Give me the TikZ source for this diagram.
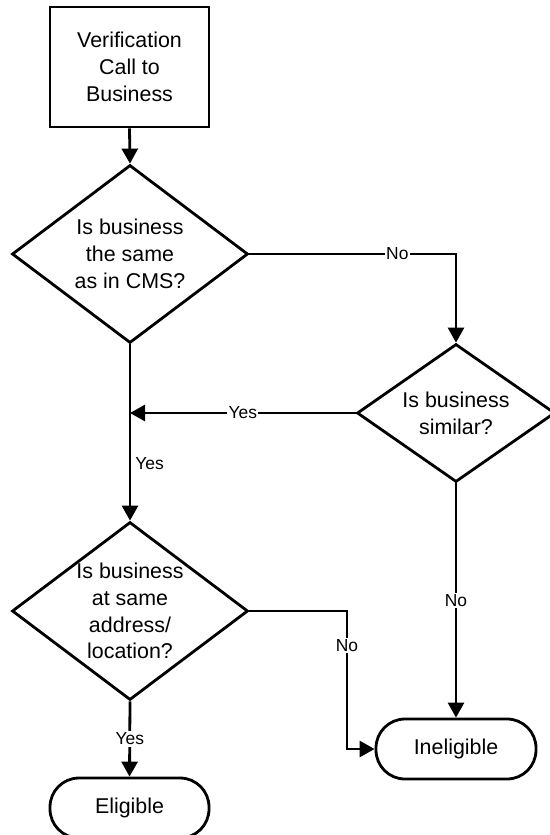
\documentclass[tikz,border=0pt]{standalone}
\usepackage{fontspec}
\setmainfont{Liberation Sans}
\usetikzlibrary{shapes.geometric,arrows.meta}
\newcommand\dfont{\fontsize{21.4}{26.7}\selectfont}
\newcommand\lfont{\fontsize{17.4}{20}\selectfont}
\begin{document}
\begin{tikzpicture}[x=1pt,y=-1pt,
  line width=2.8pt,
  proc/.style={draw, rectangle, minimum width=159pt, minimum height=120pt, align=center, font=\dfont, inner sep=0pt},
  dec/.style={draw, diamond, inner sep=0pt},
  dtext/.style={font=\dfont, align=center},
  term/.style={draw, rectangle, rounded corners=29pt, minimum width=159pt, minimum height=60pt, font=\dfont, inner sep=0pt},
  lbl/.style={fill=white, font=\lfont, inner sep=1.5pt},
  arr/.style={-{Triangle[length=15pt,width=16pt]}},
  ]
\useasboundingbox (0,0) rectangle (549,835);

\node[proc] (box) at (129.5,67) {Verification\\Call to\\Business};
\node[dec, minimum width=236pt, minimum height=178pt,
  label={[dtext]center:Is business\\the same\\as in CMS?}] (d1) at (130,254) {};
\node[dec, minimum width=198pt, minimum height=138pt,
  label={[dtext]center:Is business\\similar?}] (d2) at (456,413) {};
\node[dec, minimum width=236pt, minimum height=178pt,
  label={[dtext]center:Is business\\at same\\address/\\location?}] (d3) at (130,611) {};
\node[term, minimum width=160pt] (ine) at (456,749) {Ineligible};
\node[term] (eli) at (129.5,808) {Eligible};

\coordinate (c0) at (d2.north |- d1.east);
\coordinate (j) at (d1.south |- d2.west);
\coordinate (c1) at (347,611);
\coordinate (c2) at (c1 |- ine.west);

\draw[arr] (box.south) -- (d1.north);
\draw[arr] (d1.east) -- node[lbl, pos=0.716] {No} (c0) -- (d2.north);
\draw[arr] (d2.west) -- node[lbl] {Yes} (j);
\draw[arr] (d1.south) -- node[pos=0.676, anchor=west, font=\lfont, inner sep=4pt] {Yes} (d3.north);
\draw[arr] (d3.east) -- (c1) -- node[lbl, pos=0.25] {No} (c2) -- (ine.west);
\draw[arr] (d2.south) -- node[lbl] {No} (ine.north);
\draw[arr] (d3.south) -- node[lbl] {Yes} (eli.north);
\end{tikzpicture}
\end{document}
